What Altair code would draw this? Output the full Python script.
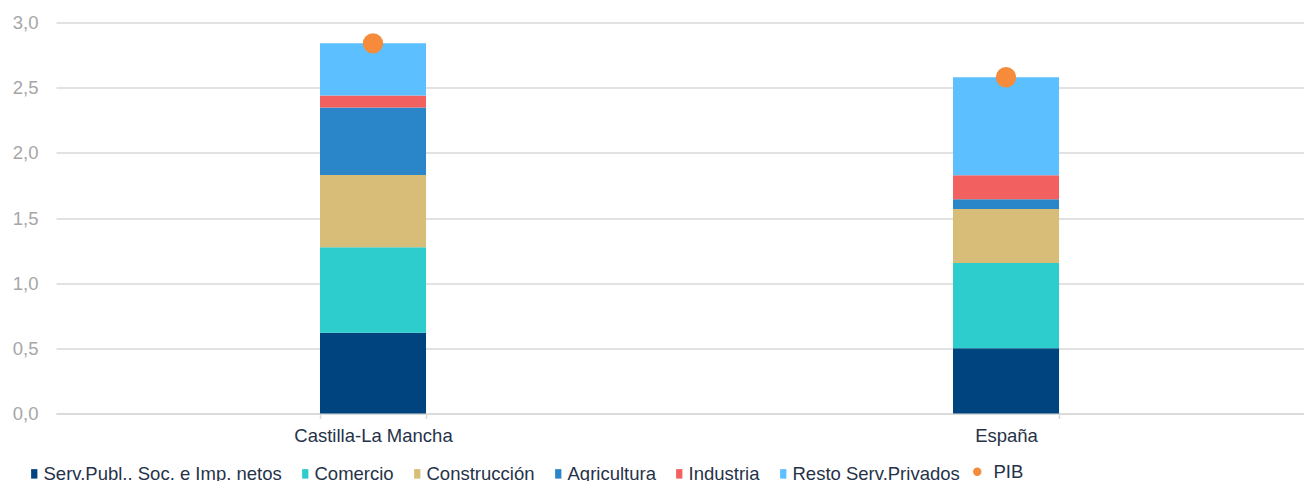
import altair as alt
import pandas as pd

regions = ["Castilla-La Mancha", "España"]
sectors = ["Serv.Publ.. Soc. e Imp. netos", "Comercio", "Construcción",
           "Agricultura", "Industria", "Resto Serv.Privados"]
sector_colors = ["#00447f", "#2ecdcd", "#d8bd78", "#2a86c8", "#f26060", "#5cbfff"]
clm_values = [0.62, 0.655, 0.555, 0.517, 0.093, 0.40]
esp_values = [0.50, 0.655, 0.415, 0.073, 0.185, 0.752]
pib_values = [2.84, 2.58]
pib_series = ["PIB"]
pib_color = ["#f68b3b"]
y_ticks = [0, 0.5, 1.0, 1.5, 2.0, 2.5, 3.0]

rows = []
for region, vals in zip(regions, [clm_values, esp_values]):
    for i, (s, v) in enumerate(zip(sectors, vals)):
        rows.append({"region": region, "sector": s, "orden": i, "valor": v})
bars_df = pd.DataFrame(rows)
pib_df = pd.DataFrame({"region": regions, "valor": pib_values, "serie": pib_series * len(regions)})

FONT = "Liberation Sans"
TEXT = "#263248"
GRID = "#d9d9d9"
FS = 18.5

x_enc = alt.X(
    "region:N", sort=regions, title=None,
    scale=alt.Scale(domain=regions, paddingInner=0.8325, paddingOuter=0.402, align=0.5187),
    axis=alt.Axis(labelAngle=0, labelFontSize=FS, labelColor=TEXT, labelFont=FONT,
                  domainColor=GRID, domainWidth=1.5, tickColor=GRID, tickSize=5,
                  tickWidth=1.5, tickBand="extent", labelPadding=8, grid=False,
                  labelLimit=0),
)
y_enc = alt.Y(
    "valor:Q", title=None, stack="zero",
    scale=alt.Scale(domain=[0, 3], nice=False),
    axis=alt.Axis(values=y_ticks,
                  labelExpr="replace(format(datum.value, '.1f'), '.', ',')",
                  labelColor="#a6a6a6", labelFontSize=FS, labelFont=FONT,
                  ticks=False, domain=False, gridColor=GRID, gridWidth=1.5,
                  labelPadding=18),
)

bars = alt.Chart(bars_df).mark_bar().encode(
    x=x_enc,
    y=y_enc,
    color=alt.Color(
        "sector:N",
        scale=alt.Scale(domain=sectors, range=sector_colors),
        legend=alt.Legend(orient="none", legendX=-31, legendY=442, direction="horizontal",
                          columns=6, title=None,
                          symbolType="M-0.66,-1H0.66V1H-0.66Z", symbolSize=90,
                          symbolStrokeWidth=0, labelFontSize=FS, labelColor=TEXT,
                          labelFont=FONT, columnPadding=14, labelOffset=0,
                          labelLimit=0),
    ),
    order=alt.Order("orden:Q", sort="ascending"),
)

points = alt.Chart(pib_df).mark_circle(size=415, opacity=1).encode(
    x=alt.X("region:N", sort=regions),
    y=alt.Y("valor:Q", stack=None),
    fill=alt.Fill(
        "serie:N",
        scale=alt.Scale(domain=pib_series, range=pib_color),
        legend=alt.Legend(orient="none", legendX=912, legendY=440, title=None,
                          symbolType="circle", symbolSize=70, symbolStrokeWidth=0,
                          labelFontSize=FS, labelColor=TEXT, labelFont=FONT,
                          labelOffset=7, labelLimit=0),
    ),
)

chart = (
    alt.layer(bars, points)
    .resolve_scale(color="independent")
    .properties(
        width=1248, height=391,
        autosize=alt.AutoSizeParams(type="none"),
        padding={"left": 48, "top": 14.5, "right": 0, "bottom": 67.5},
    )
    .configure(font=FONT)
    .configure_view(stroke=None)
)

chart.save("out.html", embed_options={"renderer": "svg", "actions": False})
